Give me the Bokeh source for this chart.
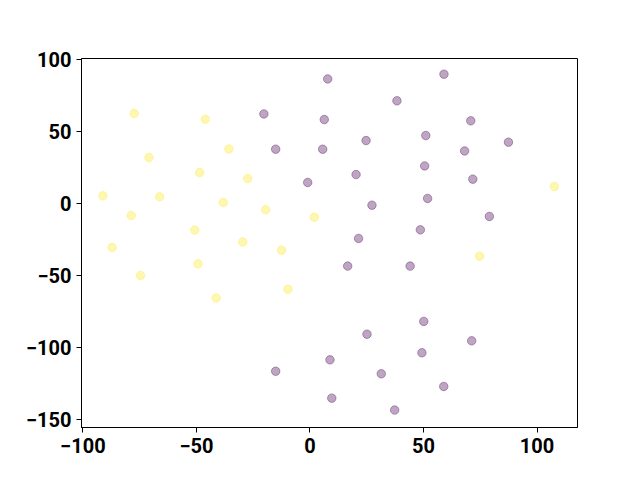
from bokeh.plotting import figure
from bokeh.models import Range1d, FixedTicker, CustomJSTickFormatter, ColumnDataSource
from bokeh.embed import file_html
from bokeh.resources import INLINE

# cluster A (yellow)
xa = [-77.4, -46.1, -70.9, -35.7, -48.6, -27.4, -91.2, -66.2, -38.2, -78.7, -19.5,
      1.9, -50.7, -87.1, -74.6, -29.6, -12.5, -49.3, -41.3, -9.7, 107.6, 74.7]
ya = [62.5, 58.5, 31.9, 37.9, 21.5, 17.4, 5.3, 4.6, 0.7, -8.3, -4.4,
      -9.5, -18.5, -30.6, -50.0, -26.7, -32.4, -41.9, -65.6, -59.5, 11.8, -36.6]

# cluster B (purple)
xb = [-20.3, 6.3, -15.1, 5.6, -1.0, 7.8, 59.0, 38.3, 70.8, 24.7, 51.0, 68.1, 87.4,
      20.3, 50.5, 71.7, 27.3, 51.8, 79.0, 48.6, 21.4, 16.6, 44.1, 50.1, 25.1, 71.2,
      8.8, 49.3, 31.4, 58.9, 9.6, 37.3, -15.1]
yb = [62.2, 58.3, 37.7, 37.7, 14.6, 86.5, 89.8, 71.3, 57.4, 43.7, 47.2, 36.5, 42.6,
      20.1, 26.1, 16.9, -1.2, 3.5, -9.0, -18.3, -24.3, -43.5, -43.5, -81.9, -90.8, -95.4,
      -108.6, -103.7, -118.3, -127.1, -135.2, -143.5, -116.5]

xticks = [-100, -50, 0, 50, 100]
yticks = [-150, -100, -50, 0, 50, 100]

p = figure(output_backend="svg", toolbar_location=None,
           frame_width=496, frame_height=369,
           min_border_left=81, min_border_top=58, min_border_right=55, min_border_bottom=45,
           x_range=Range1d(-100.6, 117.8), y_range=Range1d(-155.6, 100.7))

p.background_fill_color = "white"
p.border_fill_color = "white"
p.xgrid.visible = False
p.ygrid.visible = False
p.outline_line_color = "black"
p.outline_line_width = 1

purple = "#440154"
yellow = "#fde725"
alpha = 0.35

srcb = ColumnDataSource(dict(x=xb, y=yb))
srca = ColumnDataSource(dict(x=xa, y=ya))
p.scatter("x", "y", source=srcb, size=8.5, fill_color=purple, line_color=purple,
          fill_alpha=alpha, line_alpha=alpha, line_width=1)
p.scatter("x", "y", source=srca, size=8.5, fill_color=yellow, line_color=yellow,
          fill_alpha=alpha, line_alpha=alpha, line_width=1)

fmt = CustomJSTickFormatter(code="return tick.toString().replace('-', '\\u2212');")
for ax, ticks in ((p.xaxis, xticks), (p.yaxis, yticks)):
    ax.ticker = FixedTicker(ticks=ticks)
    ax.formatter = fmt
    ax.minor_tick_line_color = None
    ax.major_tick_out = 5
    ax.major_tick_in = 0
    ax.major_tick_line_color = "black"
    ax.axis_line_color = "black"
    ax.major_label_text_font = "Roboto"
    ax.major_label_text_font_style = "bold"
    ax.major_label_text_font_size = "20px"
    ax.major_label_text_color = "black"
    ax.major_label_standoff = 5

open("out.html", "w").write(file_html(p, INLINE))
